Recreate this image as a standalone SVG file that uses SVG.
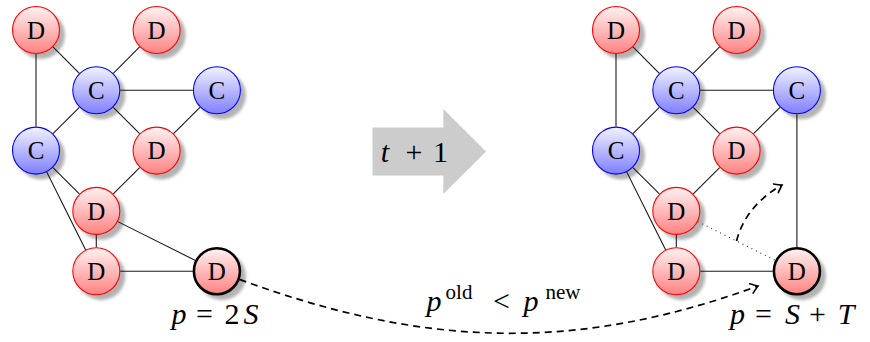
<svg xmlns="http://www.w3.org/2000/svg" width="870" height="342" viewBox="0 0 870 342">
  <defs>
    <linearGradient id="gradD" x1="0" y1="0" x2="0" y2="1">
      <stop offset="0" stop-color="#fff2f2"/>
      <stop offset="1" stop-color="#ff8282"/>
    </linearGradient>
    <linearGradient id="gradC" x1="0" y1="0" x2="0" y2="1">
      <stop offset="0" stop-color="#f2f2ff"/>
      <stop offset="1" stop-color="#7f7fff"/>
    </linearGradient>
    <filter id="soft" x="-30%" y="-30%" width="160%" height="160%">
      <feGaussianBlur stdDeviation="1.5"/>
    </filter>
    <marker id="tip" viewBox="-8 -6 10 12" markerWidth="10" markerHeight="12" refX="0" refY="0" orient="auto" markerUnits="userSpaceOnUse">
      <path d="M-7,-5 Q-2,-1.2 0,0 Q-2,1.2 -7,5" fill="none" stroke="#000" stroke-width="1.6" stroke-linecap="round"/>
    </marker>
  </defs>
  <style>
    .shadow { fill: #a0a0a0; opacity: 0.8; filter: url(#soft); }
    .d { fill: url(#gradD); stroke: #ff0000; stroke-width: 1.1; }
    .c { fill: url(#gradC); stroke: #0000ff; stroke-width: 1.1; }
    .bold { stroke: #000; stroke-width: 2.6; }
    .lbl { text-anchor: middle; fill: #000; }
    .edge { stroke: #1a1a1a; stroke-width: 1.1; fill: none; }
    .dots { stroke: #333; stroke-width: 1.1; stroke-dasharray: 1 4; fill: none; }
    .dash { stroke: #000; stroke-width: 1.7; stroke-dasharray: 7 5; fill: none; }
    .math { fill: #000; text-anchor: middle; }
    .it { font-style: italic; }
  </style>

  <g id="nodes" font-family="Liberation Serif, DejaVu Serif, serif" font-size="25">
    <!-- left graph -->
    <g id="L-D1"><circle class="shadow" cx="41" cy="35" r="24"/><circle class="d" cx="36" cy="30" r="23.5"/><text class="lbl" x="36" y="38.8">D</text></g>
    <g id="L-D2"><circle class="shadow" cx="161.6" cy="35" r="24"/><circle class="d" cx="156.6" cy="30" r="23.5"/><text class="lbl" x="156.6" y="38.8">D</text></g>
    <g id="L-C1"><circle class="shadow" cx="101.3" cy="95.3" r="24"/><circle class="c" cx="96.3" cy="90.3" r="23.5"/><text class="lbl" x="96.3" y="99.1">C</text></g>
    <g id="L-C2"><circle class="shadow" cx="221.9" cy="95.3" r="24"/><circle class="c" cx="216.9" cy="90.3" r="23.5"/><text class="lbl" x="216.9" y="99.1">C</text></g>
    <g id="L-C3"><circle class="shadow" cx="41" cy="155.6" r="24"/><circle class="c" cx="36" cy="150.6" r="23.5"/><text class="lbl" x="36" y="159.4">C</text></g>
    <g id="L-D3"><circle class="shadow" cx="161.6" cy="155.6" r="24"/><circle class="d" cx="156.6" cy="150.6" r="23.5"/><text class="lbl" x="156.6" y="159.4">D</text></g>
    <g id="L-D4"><circle class="shadow" cx="101.3" cy="215.9" r="24"/><circle class="d" cx="96.3" cy="210.9" r="23.5"/><text class="lbl" x="96.3" y="219.7">D</text></g>
    <g id="L-D5"><circle class="shadow" cx="101.3" cy="276.2" r="24"/><circle class="d" cx="96.3" cy="271.2" r="23.5"/><text class="lbl" x="96.3" y="280">D</text></g>
    <g id="L-D6"><circle class="shadow" cx="221.9" cy="276.2" r="24"/><circle class="d bold" cx="216.9" cy="271.2" r="23"/><text class="lbl" x="216.9" y="280">D</text></g>

    <!-- right graph -->
    <g id="R-D1"><circle class="shadow" cx="621" cy="35" r="24"/><circle class="d" cx="616" cy="30" r="23.5"/><text class="lbl" x="616" y="38.8">D</text></g>
    <g id="R-D2"><circle class="shadow" cx="741.6" cy="35" r="24"/><circle class="d" cx="736.6" cy="30" r="23.5"/><text class="lbl" x="736.6" y="38.8">D</text></g>
    <g id="R-C1"><circle class="shadow" cx="681.3" cy="95.3" r="24"/><circle class="c" cx="676.3" cy="90.3" r="23.5"/><text class="lbl" x="676.3" y="99.1">C</text></g>
    <g id="R-C2"><circle class="shadow" cx="801.9" cy="95.3" r="24"/><circle class="c" cx="796.9" cy="90.3" r="23.5"/><text class="lbl" x="796.9" y="99.1">C</text></g>
    <g id="R-C3"><circle class="shadow" cx="621" cy="155.6" r="24"/><circle class="c" cx="616" cy="150.6" r="23.5"/><text class="lbl" x="616" y="159.4">C</text></g>
    <g id="R-D3"><circle class="shadow" cx="741.6" cy="155.6" r="24"/><circle class="d" cx="736.6" cy="150.6" r="23.5"/><text class="lbl" x="736.6" y="159.4">D</text></g>
    <g id="R-D4"><circle class="shadow" cx="681.3" cy="215.9" r="24"/><circle class="d" cx="676.3" cy="210.9" r="23.5"/><text class="lbl" x="676.3" y="219.7">D</text></g>
    <g id="R-D5"><circle class="shadow" cx="681.3" cy="276.2" r="24"/><circle class="d" cx="676.3" cy="271.2" r="23.5"/><text class="lbl" x="676.3" y="280">D</text></g>
    <g id="R-D6"><circle class="shadow" cx="801.9" cy="276.2" r="24"/><circle class="d bold" cx="796.9" cy="271.2" r="23"/><text class="lbl" x="796.9" y="280">D</text></g>
  </g>

  <!-- edges, trimmed to the node borders -->
  <g id="connectors">
    <g id="left-edges">
      <line class="edge" x1="36" y1="54" x2="36" y2="126.6"/>
      <line class="edge" x1="52.97" y1="46.97" x2="79.33" y2="73.33"/>
      <line class="edge" x1="139.63" y1="46.97" x2="113.27" y2="73.33"/>
      <line class="edge" x1="120.3" y1="90.3" x2="192.9" y2="90.3"/>
      <line class="edge" x1="79.33" y1="107.27" x2="52.97" y2="133.63"/>
      <line class="edge" x1="113.27" y1="107.27" x2="139.63" y2="133.63"/>
      <line class="edge" x1="199.93" y1="107.27" x2="173.57" y2="133.63"/>
      <line class="edge" x1="139.63" y1="167.57" x2="113.27" y2="193.87"/>
      <line class="edge" x1="52.97" y1="167.57" x2="79.33" y2="193.87"/>
      <line class="edge" x1="46.73" y1="172.07" x2="85.57" y2="249.73"/>
      <line class="edge" x1="96.3" y1="234.9" x2="96.3" y2="247.2"/>
      <line class="edge" x1="117.77" y1="221.63" x2="195.43" y2="260.47"/>
      <line class="edge" x1="120.3" y1="271.2" x2="192.9" y2="271.2"/>
    </g>
    <g id="right-edges">
      <line class="edge" x1="616" y1="54" x2="616" y2="126.6"/>
      <line class="edge" x1="632.97" y1="46.97" x2="659.33" y2="73.33"/>
      <line class="edge" x1="719.63" y1="46.97" x2="693.27" y2="73.33"/>
      <line class="edge" x1="700.3" y1="90.3" x2="772.9" y2="90.3"/>
      <line class="edge" x1="659.33" y1="107.27" x2="632.97" y2="133.63"/>
      <line class="edge" x1="693.27" y1="107.27" x2="719.63" y2="133.63"/>
      <line class="edge" x1="779.93" y1="107.27" x2="753.57" y2="133.63"/>
      <line class="edge" x1="719.63" y1="167.57" x2="693.27" y2="193.87"/>
      <line class="edge" x1="632.97" y1="167.57" x2="659.33" y2="193.87"/>
      <line class="edge" x1="626.73" y1="172.07" x2="665.57" y2="249.73"/>
      <line class="edge" x1="676.3" y1="234.9" x2="676.3" y2="247.2"/>
      <line class="dots" x1="697.77" y1="221.63" x2="775.43" y2="260.47"/>
      <line class="edge" x1="700.3" y1="271.2" x2="772.9" y2="271.2"/>
      <line class="edge" x1="796.9" y1="114.3" x2="796.9" y2="247.2"/>
    </g>
    <!-- moves of the rewired node -->
    <path class="dash" d="M239.5,279.4 C423,347 575,353 758,286" marker-end="url(#tip)"/>
    <path class="dash" d="M736.6,241 C741,222 755,200 782,185" marker-end="url(#tip)"/>
  </g>

  <g id="labels" font-family="Liberation Serif, DejaVu Serif, serif" font-size="30">
    <!-- time step arrow -->
    <g id="step">
      <polygon fill="#cccccc" points="372.5,127.5 443.3,127.5 443.3,109 486,151.5 443.3,194 443.3,175.5 372.5,175.5"/>
      <text class="math"><tspan class="it" x="385" y="162">t</tspan><tspan x="414" y="162">+</tspan><tspan x="440.5" y="162">1</tspan></text>
    </g>
    <text class="math"><tspan class="it" x="179" y="324">p</tspan><tspan x="204.5" y="324">=</tspan><tspan x="232" y="324">2</tspan><tspan class="it" x="251" y="324">S</tspan></text>
    <text class="math"><tspan class="it" x="737.5" y="324">p</tspan><tspan x="763.5" y="324">=</tspan><tspan class="it" x="792.5" y="324">S</tspan><tspan x="817.5" y="324">+</tspan><tspan class="it" x="846" y="324">T</tspan></text>
    <text class="math"><tspan class="it" x="434" y="311">p</tspan><tspan x="459" y="299" font-size="21">old</tspan><tspan x="501.5" y="311">&lt;</tspan><tspan class="it" x="531" y="311">p</tspan><tspan x="563" y="299" font-size="21">new</tspan></text>
  </g>
</svg>
